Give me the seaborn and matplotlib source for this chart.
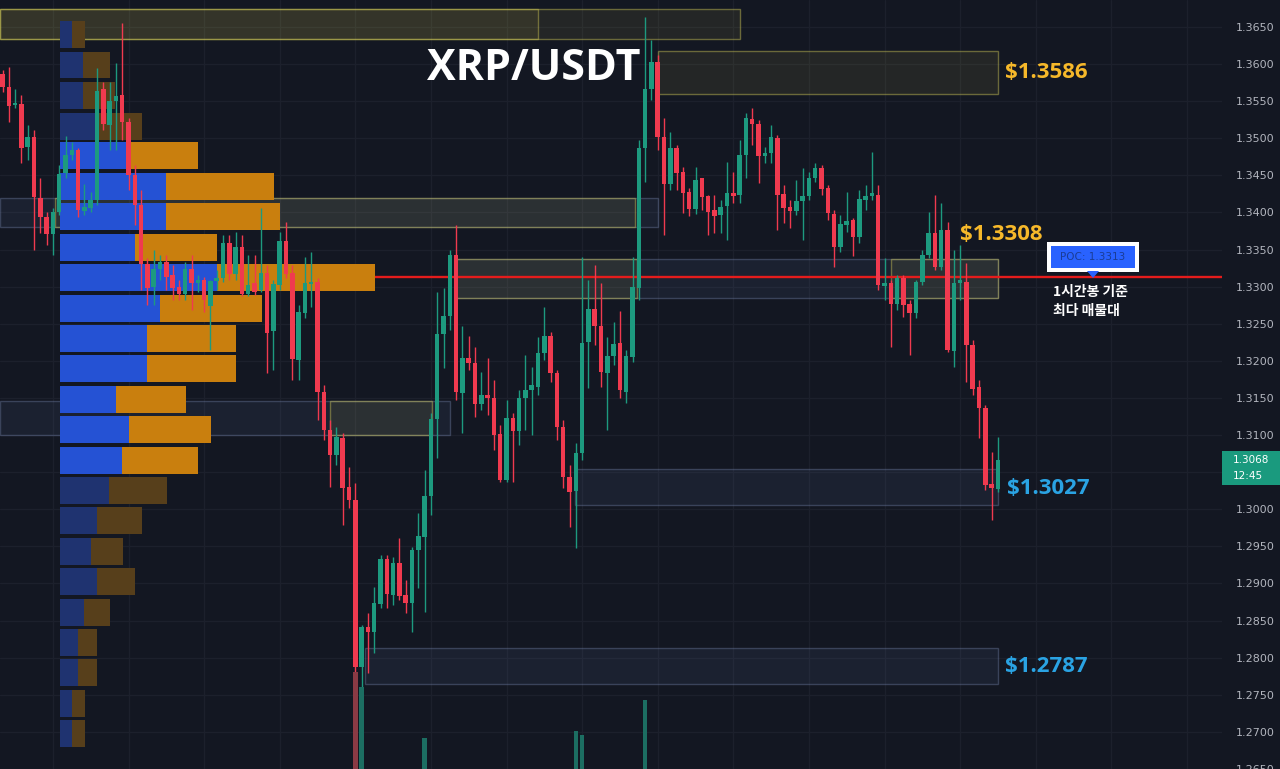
import numpy as np
import pandas as pd
import matplotlib
matplotlib.use("Agg")
import matplotlib.pyplot as plt
from matplotlib.patches import Rectangle, Polygon
import seaborn as sns

# ---------------- data ----------------
opens = [1.3587,1.3570,1.3545,1.3547,1.3489,1.3502,1.3421,1.3395,1.3372,1.3402,
         1.3454,1.3478,1.3485,1.3403,1.3407,1.3418,1.3567,1.3518,1.3551,1.3559,
         1.3522,1.3451,1.3411,1.3332,1.3301,1.3325,1.3335,1.3317,1.3301,1.3292,
         1.3325,1.3306,1.3310,1.3275,1.3309,1.3313,1.3360,1.3318,1.3355,1.3292,
         1.3306,1.3297,1.3320,1.3242,1.3304,1.3363,1.3320,1.3203,1.3266,1.3305,
         1.3308,1.3160,1.3109,1.3075,1.3098,1.3032,1.3015,1.2791,1.2844,1.2838,
         1.2875,1.2936,1.2887,1.2930,1.2887,1.2877,1.2948,1.2965,1.3020,1.3124,
         1.3238,1.3262,1.3344,1.3159,1.3206,1.3199,1.3144,1.3156,1.3152,1.3103,
         1.3042,1.3125,1.3108,1.3152,1.3162,1.3167,1.3212,1.3235,1.3185,1.3113,
         1.3046,1.3027,1.3078,1.3227,1.3271,1.3248,1.3185,1.3208,1.3226,1.3160,
         1.3207,1.3300,1.3488,1.3567,1.3603,1.3502,1.3439,1.3488,1.3455,1.3428,
         1.3406,1.3447,1.3423,1.3404,1.3398,1.3410,1.3427,1.3424,1.3478,1.3526,
         1.3520,1.3477,1.3481,1.3501,1.3426,1.3408,1.3403,1.3416,1.3423,1.3447,
         1.3461,1.3434,1.3399,1.3355,1.3384,1.3391,1.3368,1.3418,1.3423,1.3424,
         1.3302,1.3306,1.3278,1.3313,1.3278,1.3266,1.3308,1.3344,1.3373,1.3328,
         1.3377,1.3215,1.3306,1.3308,1.3223,1.3167,1.3138,1.3036,1.3030]
closes = [1.3570,1.3544,1.3548,1.3488,1.3502,1.3422,1.3395,1.3372,1.3402,1.3453,
          1.3478,1.3485,1.3404,1.3408,1.3418,1.3564,1.3520,1.3551,1.3557,1.3522,
          1.3451,1.3411,1.3332,1.3300,1.3325,1.3335,1.3314,1.3300,1.3292,1.3325,
          1.3306,1.3310,1.3283,1.3309,1.3313,1.3360,1.3318,1.3355,1.3292,1.3304,
          1.3294,1.3320,1.3239,1.3305,1.3363,1.3318,1.3204,1.3267,1.3306,1.3308,
          1.3160,1.3109,1.3075,1.3099,1.3031,1.3015,1.2791,1.2844,1.2838,1.2877,
          1.2936,1.2889,1.2930,1.2886,1.2877,1.2948,1.2967,1.3020,1.3124,1.3238,
          1.3262,1.3344,1.3160,1.3206,1.3199,1.3144,1.3156,1.3152,1.3102,1.3042,
          1.3125,1.3108,1.3152,1.3163,1.3169,1.3212,1.3235,1.3185,1.3113,1.3046,
          1.3026,1.3078,1.3226,1.3271,1.3248,1.3187,1.3208,1.3224,1.3162,1.3208,
          1.3301,1.3488,1.3567,1.3603,1.3502,1.3439,1.3488,1.3454,1.3427,1.3406,
          1.3445,1.3422,1.3402,1.3396,1.3408,1.3427,1.3423,1.3478,1.3528,1.3520,
          1.3477,1.3481,1.3502,1.3424,1.3407,1.3403,1.3416,1.3423,1.3447,1.3461,
          1.3432,1.3400,1.3355,1.3385,1.3389,1.3368,1.3419,1.3423,1.3427,1.3304,
          1.3306,1.3278,1.3313,1.3277,1.3266,1.3308,1.3344,1.3373,1.3328,1.3377,
          1.3216,1.3306,1.3310,1.3223,1.3164,1.3138,1.3035,1.3031,1.3068]
highs = [1.3592,1.3596,1.3567,1.3559,1.3518,1.3512,1.3447,1.3402,1.3407,1.3465,
         1.3504,1.3496,1.3488,1.3439,1.3428,1.3595,1.3576,1.3576,1.3602,1.3655,
         1.3528,1.3465,1.3431,1.3340,1.3351,1.3344,1.3344,1.3331,1.3310,1.3335,
         1.3344,1.3317,1.3314,1.3310,1.3324,1.3371,1.3371,1.3375,1.3371,1.3344,
         1.3344,1.3407,1.3331,1.3310,1.3375,1.3388,1.3331,1.3277,1.3341,1.3348,
         1.3313,1.3169,1.3122,1.3113,1.3105,1.3059,1.3038,1.2847,1.2863,1.2898,
         1.2941,1.2941,1.2938,1.2964,1.2907,1.2952,1.2997,1.3055,1.3132,1.3294,
         1.3300,1.3351,1.3384,1.3248,1.3235,1.3220,1.3187,1.3206,1.3176,1.3116,
         1.3149,1.3132,1.3163,1.3210,1.3193,1.3234,1.3274,1.3241,1.3189,1.3122,
         1.3062,1.3091,1.3341,1.3310,1.3331,1.3306,1.3234,1.3254,1.3269,1.3216,
         1.3341,1.3498,1.3663,1.3633,1.3612,1.3528,1.3509,1.3492,1.3462,1.3434,
         1.3462,1.3447,1.3424,1.3424,1.3418,1.3469,1.3455,1.3498,1.3535,1.3541,
         1.3525,1.3489,1.3518,1.3505,1.3438,1.3418,1.3445,1.3461,1.3455,1.3467,
         1.3465,1.3438,1.3404,1.3398,1.3428,1.3393,1.3431,1.3438,1.3482,1.3438,
         1.3340,1.3310,1.3317,1.3317,1.3283,1.3310,1.3351,1.3402,1.3424,1.3414,
         1.3388,1.3351,1.3357,1.3333,1.3230,1.3176,1.3142,1.3079,1.3099]
lows = [1.3563,1.3522,1.3541,1.3467,1.3471,1.3351,1.3373,1.3357,1.3344,1.3398,
        1.3447,1.3471,1.3395,1.3398,1.3402,1.3411,1.3512,1.3485,1.3485,1.3498,
        1.3431,1.3384,1.3297,1.3277,1.3277,1.3310,1.3297,1.3283,1.3283,1.3283,
        1.3270,1.3294,1.3267,1.3216,1.3297,1.3308,1.3310,1.3310,1.3289,1.3289,
        1.3290,1.3294,1.3185,1.3189,1.3297,1.3313,1.3176,1.3176,1.3259,1.3274,
        1.3122,1.3095,1.3032,1.3062,1.2981,1.3004,1.2784,1.2764,1.2783,1.2809,
        1.2870,1.2870,1.2874,1.2881,1.2863,1.2838,1.2897,1.2864,1.2995,1.3071,
        1.3192,1.3243,1.3149,1.3105,1.3189,1.3126,1.3136,1.3129,1.3082,1.3039,
        1.3039,1.3039,1.3089,1.3109,1.3102,1.3156,1.3203,1.3173,1.3095,1.3031,
        1.2978,1.2950,1.3069,1.3165,1.3223,1.3167,1.3109,1.3196,1.3152,1.3145,
        1.3200,1.3283,1.3442,1.3552,1.3485,1.3371,1.3431,1.3431,1.3400,1.3396,
        1.3399,1.3404,1.3371,1.3373,1.3373,1.3364,1.3414,1.3414,1.3447,1.3492,
        1.3441,1.3467,1.3467,1.3377,1.3387,1.3380,1.3398,1.3364,1.3418,1.3442,
        1.3424,1.3391,1.3328,1.3348,1.3375,1.3342,1.3360,1.3404,1.3418,1.3297,
        1.3283,1.3220,1.3270,1.3261,1.3210,1.3259,1.3304,1.3340,1.3324,1.3324,
        1.3213,1.3193,1.3283,1.3173,1.3156,1.3098,1.3028,1.2988,1.3026]

profile_price = [1.3640,1.3599,1.3558,1.3517,1.3477,1.3436,1.3395,1.3354,1.3313,1.3272,
                 1.3232,1.3191,1.3150,1.3109,1.3068,1.3027,1.2987,1.2946,1.2905,1.2864,
                 1.2823,1.2783,1.2742,1.2701]
profile_up = [12,23,23,35,69,106,106,75,157,100,87,87,56,69,62,49,37,31,37,24,18,18,12,12]
profile_down = [13,27,32,47,69,108,114,82,158,102,89,89,70,82,76,58,45,32,38,26,19,19,13,13]
value_area = [False]*4 + [True]*11 + [False]*9

vol_index = [56, 57, 67, 91, 92, 102]
vol_value = [97, 82, 31, 38, 34, 69]

tick_prices = [1.2650,1.2700,1.2750,1.2800,1.2850,1.2900,1.2950,1.3000,1.3050,1.3100,
               1.3150,1.3200,1.3250,1.3300,1.3350,1.3400,1.3450,1.3500,1.3550,1.3600,1.3650]
hidden_tick = 1.3050   # covered by the last-price tag in the reference

# zones: (start index, end index, top price, bottom price, kind)
zone_start = [-0.4, -0.4, 104.0, -0.4, 8.3, 71.8, 71.8, 141.0, -0.4, 52.0, 90.9, 57.5]
zone_end   = [117.1, 85.0, 158.0, 104.0, 100.4, 158.0, 100.7, 158.0, 71.0, 68.2, 158.0, 158.0]
zone_top   = [1.3674, 1.3674, 1.3617, 1.3420, 1.3420, 1.3337, 1.3337, 1.3337, 1.3146, 1.3146, 1.3054, 1.2813]
zone_bot   = [1.3634, 1.3634, 1.3560, 1.3380, 1.3380, 1.3285, 1.3285, 1.3285, 1.3100, 1.3100, 1.3006, 1.2765]
zone_kind  = ['y', 'y', 'y', 'b', 'y', 'b', 'y', 'y', 'b', 'y', 'b', 'b']

level_labels = ['$1.3586', '$1.3308', '$1.3027', '$1.2787']
poc_price = 1.3313
last_price = 1.3068
countdown = '12:45'

df = pd.DataFrame({'open': opens, 'close': closes, 'high': highs, 'low': lows})
df['idx'] = np.arange(len(df))

# ---------------- style ----------------
W, H = 1280, 769
BG = '#131722'
GRID = '#1c202c'
UP = '#1d9a7f'
DN = '#f03a4f'
sns.set_theme(style='dark', rc={'axes.facecolor': BG, 'figure.facecolor': BG,
                                'axes.edgecolor': BG})
plt.rcParams['font.family'] = ['DejaVu Sans']

def fx(px):
    return px / W

def fy(py):
    return 1 - py / H

XL = (-0.397, 193.57)
YL = (1.26535, 1.36863)
RECT = [0, 0, 1222 / W, 1]

fig = plt.figure(figsize=(12.8, 7.69), dpi=100)

# main axes: grid, zones, POC line, price scale
ax = fig.add_axes(RECT)
ax.set_xlim(*XL)
ax.set_ylim(*YL)
ax.set_facecolor(BG)
for s in ax.spines.values():
    s.set_visible(False)
ax.yaxis.tick_right()
ax.set_yticks(tick_prices)
ax.set_yticklabels(['' if abs(t - hidden_tick) < 1e-9 else f'{t:.4f}' for t in tick_prices])
ax.tick_params(axis='y', length=0, pad=10, labelsize=8, labelcolor='#b2b5be')
ax.set_xticks(np.arange(8, 194, 12))
ax.tick_params(axis='x', length=0, labelbottom=False)
ax.grid(True, color=GRID, lw=0.9)

for s0, s1, t, b, k in zip(zone_start, zone_end, zone_top, zone_bot, zone_kind):
    if k == 'y':
        fc = (1.0, 0.93, 0.35, 0.075)
        ec = (0.85, 0.82, 0.35, 0.42)
    else:
        fc = (0.55, 0.65, 0.92, 0.07)
        ec = (0.55, 0.62, 0.80, 0.30)
    ax.add_patch(Rectangle((s0, b), s1 - s0, t - b, facecolor=fc, edgecolor=ec, lw=1.0))

ax.hlines(poc_price, (60 - 2.5) / 6.3, XL[1], color='#e51c1c', lw=1.7, zorder=3)

# volume profile axes
axp = fig.add_axes([60 / W, 0, (1222 - 60) / W, 1])
axp.set_facecolor('none')
axp.set_xlim(0, 1162)
axp.set_ylim(*YL)
axp.axis('off')
up_c = ['#2552d4' if v else '#1f3370' for v in value_area]
dn_c = ['#c97f0e' if v else '#573f1b' for v in value_area]
axp.barh(profile_price, profile_up, height=0.00362, color=up_c, lw=0)
axp.barh(profile_price, profile_down, left=profile_up, height=0.00362, color=dn_c, lw=0)

# candles + volume axes
axc = fig.add_axes(RECT)
axc.set_facecolor('none')
axc.set_xlim(*XL)
axc.set_ylim(*YL)
axc.axis('off')
colors = np.where(df['close'] >= df['open'], UP, DN)
axc.vlines(df['idx'], df['low'], df['high'], colors=colors, lw=1.0)
body_lo = np.minimum(df['open'], df['close'])
body_h = np.maximum(np.abs(df['close'] - df['open']), 0.00009)
axc.bar(df['idx'], body_h, bottom=body_lo, width=0.72, color=colors, lw=0)

axv = fig.add_axes(RECT)
axv.set_facecolor('none')
axv.set_xlim(*XL)
axv.set_ylim(0, H)
axv.axis('off')
vcol = [('#8a3a44' if df['close'][i] < df['open'][i] else '#1c6e62') for i in vol_index]
axv.bar(vol_index, vol_value, width=0.72, color=vcol, lw=0)

# ---------------- texts ----------------
fig.text(fx(427), fy(69), 'XRP/USDT', ha='left', va='center', fontsize=31,
         weight='bold', family='Open Sans', color='white')
GOLD = '#f6b82a'
BLUE_T = '#2aa3e3'
fig.text(fx(1005), fy(73), level_labels[0], ha='left', va='center', fontsize=16,
         weight='bold', family='Open Sans', color=GOLD)
fig.text(fx(960), fy(234), level_labels[1], ha='left', va='center', fontsize=16,
         weight='bold', family='Open Sans', color=GOLD)
fig.text(fx(1007), fy(489), level_labels[2], ha='left', va='center', fontsize=16,
         weight='bold', family='Open Sans', color=BLUE_T)
fig.text(fx(1005), fy(667), level_labels[3], ha='left', va='center', fontsize=16,
         weight='bold', family='Open Sans', color=BLUE_T)

# POC callout
fig.add_artist(Rectangle((fx(1047), fy(272)), fx(92), 30 / H, transform=fig.transFigure,
                         facecolor='white', edgecolor='none'))
fig.add_artist(Rectangle((fx(1051), fy(268)), fx(84), 22 / H, transform=fig.transFigure,
                         facecolor='#2962ff', edgecolor='none'))
fig.add_artist(Polygon([(fx(1087), fy(271)), (fx(1099), fy(271)), (fx(1093), fy(278))],
                       closed=True, transform=fig.transFigure, facecolor='#2962ff',
                       edgecolor='none'))
fig.text(fx(1093), fy(257.5), f'POC: {poc_price:.4f}', ha='center', va='center',
         fontsize=7.5, color='#1a3c96')
fig.text(fx(1053), fy(292), '1시간봉 기준', ha='left', va='center', fontsize=10,
         weight='bold', family=['Noto Sans CJK KR', 'DejaVu Sans'], color='white')
fig.text(fx(1053), fy(311), '최다 매물대', ha='left', va='center', fontsize=10,
         weight='bold', family=['Noto Sans CJK KR', 'DejaVu Sans'], color='white')

# last price tag
fig.add_artist(Rectangle((fx(1222), fy(485)), fx(58), 34 / H, transform=fig.transFigure,
                         facecolor='#1a9a7e', edgecolor='none'))
fig.text(fx(1233), fy(460), f'{last_price:.4f}', ha='left', va='center', fontsize=7.5,
         color='white')
fig.text(fx(1233), fy(476), countdown, ha='left', va='center', fontsize=7.5, color='white')

fig.savefig('out.png', dpi=100, facecolor=BG)
